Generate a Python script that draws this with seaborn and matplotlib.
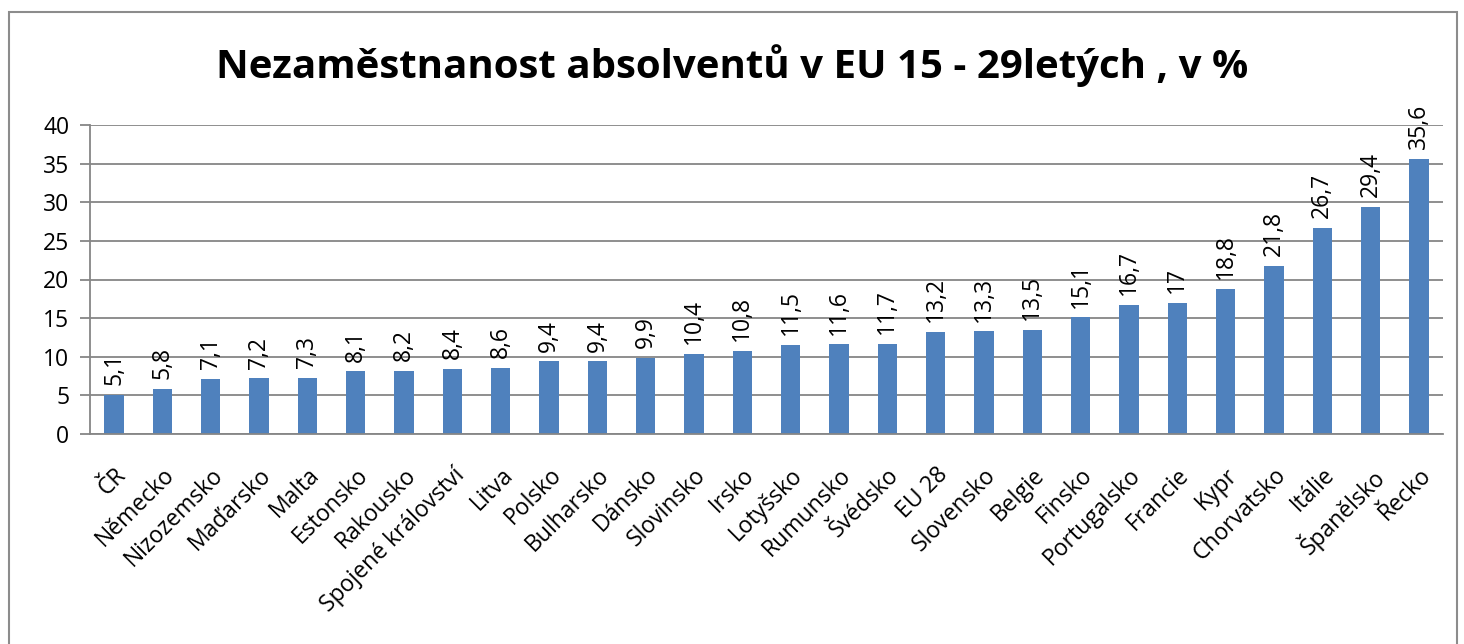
import matplotlib
matplotlib.use("Agg")
import matplotlib.pyplot as plt
import seaborn as sns
import pandas as pd
from matplotlib.patches import Rectangle

countries = ["ČR", "Německo", "Nizozemsko", "Maďarsko", "Malta", "Estonsko", "Rakousko",
             "Spojené království", "Litva", "Polsko", "Bulharsko", "Dánsko", "Slovinsko",
             "Irsko", "Lotyšsko", "Rumunsko", "Švédsko", "EU 28", "Slovensko", "Belgie",
             "Finsko", "Portugalsko", "Francie", "Kypr", "Chorvatsko", "Itálie",
             "Španělsko", "Řecko"]
values = [5.1, 5.8, 7.1, 7.2, 7.3, 8.1, 8.2, 8.4, 8.6, 9.4, 9.4, 9.9, 10.4, 10.8, 11.5,
          11.6, 11.7, 13.2, 13.3, 13.5, 15.1, 16.7, 17, 18.8, 21.8, 26.7, 29.4, 35.6]
yticks = [0, 5, 10, 15, 20, 25, 30, 35, 40]
title = "Nezaměstnanost absolventů v EU 15 - 29letých , v %"

sns.set_theme(style="white")
plt.rcParams["font.family"] = ["Open Sans", "DejaVu Sans"]
plt.rcParams["text.color"] = "black"
plt.rcParams["xtick.color"] = "black"
plt.rcParams["ytick.color"] = "black"

W, H = 1464, 644
fig = plt.figure(figsize=(W / 100, H / 100), dpi=100)
ax = fig.add_axes([90 / W, 1 - 434 / H, (1443 - 90) / W, (434 - 125) / H])

df = pd.DataFrame({"country": countries, "value": values})
sns.barplot(data=df, x="country", y="value", color="#4F81BD", saturation=1,
            width=0.4, ax=ax, edgecolor="none")

n = len(countries)
ax.set_xlim(-0.5, n - 0.5)
ax.set_ylim(0, 40)
ax.set_yticks(yticks)
ax.set_yticklabels([str(t) for t in yticks], fontsize=16.5)
ax.yaxis.grid(True, color="#868686", linewidth=1.3)
ax.set_axisbelow(True)
ax.set_xlabel("")
ax.set_ylabel("")

ax.set_xticks(range(n))
ax.set_xticklabels(countries, rotation=45, ha="right", rotation_mode="anchor", fontsize=16.5)
ax.tick_params(axis="x", which="major", length=0, pad=21, labelcolor="black")
ax.set_xticks([i - 0.5 for i in range(n + 1)], minor=True)
ax.tick_params(axis="x", which="minor", length=7, width=1.3, color="#868686", direction="out")
ax.tick_params(axis="y", length=7, width=1.3, color="#868686", direction="out", left=True,
               pad=8, labelcolor="black")

for s in ["top", "right"]:
    ax.spines[s].set_visible(False)
for s in ["left", "bottom"]:
    ax.spines[s].set_color("#868686")
    ax.spines[s].set_linewidth(1.3)

labels = [f"{v:g}".replace(".", ",") for v in values]
ax.bar_label(ax.containers[0], labels=labels, rotation=90, padding=7, fontsize=16.5,
             color="black")

fig.text(0.5, 1 - 66 / H, title, ha="center", va="center", fontsize=29,
         fontweight="bold", color="black")

frame = Rectangle((9 / W, -0.1), (1457 - 9) / W, (H - 12) / H + 0.1, transform=fig.transFigure,
                  fill=False, edgecolor="#8c8c8c", linewidth=1.5, clip_on=False)
fig.patches.append(frame)

fig.savefig("out.png", dpi=100)
